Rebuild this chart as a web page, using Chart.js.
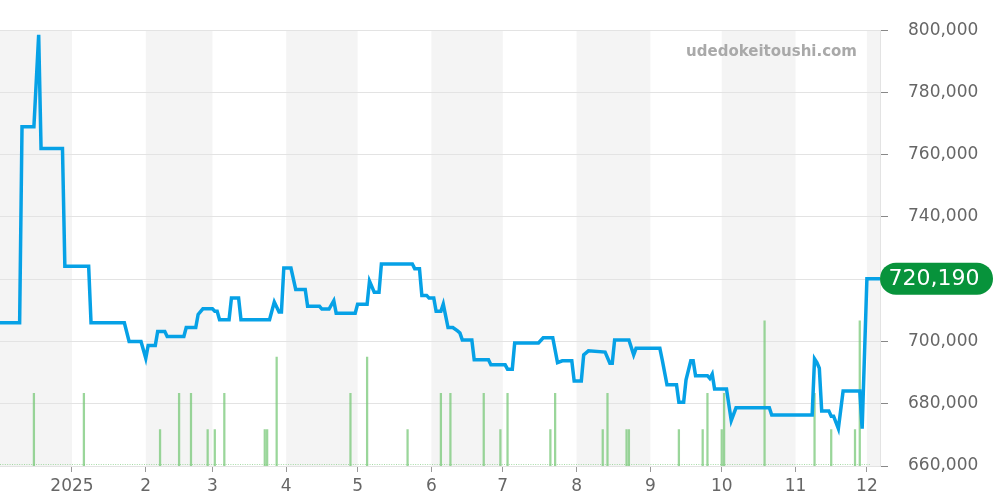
<!DOCTYPE html>
<html>
<head>
<meta charset="utf-8">
<script src="https://cdn.jsdelivr.net/npm/chart.js@4.4.1/dist/chart.umd.min.js"></script>
<style>
  html, body { margin: 0; padding: 0; background: #fff; }
  #wrap { width: 1000px; height: 500px; }
</style>
</head>
<body>
<div id="wrap"><canvas id="priceChart"></canvas></div>
<script>
// price line (vertices of the daily series)
const priceDates = [
  '2024-12-01', '2024-12-10', '2024-12-11', '2024-12-16', '2024-12-18', '2024-12-19', '2024-12-28', '2024-12-29',
  '2025-01-08', '2025-01-09', '2025-01-23', '2025-01-25', '2025-01-30',
  '2025-02-01', '2025-02-02', '2025-02-05', '2025-02-06', '2025-02-09', '2025-02-10', '2025-02-17', '2025-02-18',
  '2025-02-22', '2025-02-23', '2025-02-25',
  '2025-03-01', '2025-03-02', '2025-03-03', '2025-03-04', '2025-03-08', '2025-03-09', '2025-03-12', '2025-03-13',
  '2025-03-25', '2025-03-27', '2025-03-29', '2025-03-30', '2025-03-31',
  '2025-04-03', '2025-04-05', '2025-04-09', '2025-04-10', '2025-04-15', '2025-04-16', '2025-04-19', '2025-04-21',
  '2025-04-22', '2025-04-30',
  '2025-05-01', '2025-05-05', '2025-05-06', '2025-05-08', '2025-05-10', '2025-05-11', '2025-05-24', '2025-05-25',
  '2025-05-27', '2025-05-28', '2025-05-30', '2025-05-31',
  '2025-06-02', '2025-06-03', '2025-06-05', '2025-06-06', '2025-06-08', '2025-06-10', '2025-06-12', '2025-06-13',
  '2025-06-14', '2025-06-18', '2025-06-19', '2025-06-25', '2025-06-26',
  '2025-07-02', '2025-07-03', '2025-07-05', '2025-07-06', '2025-07-16', '2025-07-18', '2025-07-22', '2025-07-24',
  '2025-07-26', '2025-07-30', '2025-07-31',
  '2025-08-03', '2025-08-04', '2025-08-06', '2025-08-13', '2025-08-15', '2025-08-16', '2025-08-17', '2025-08-23',
  '2025-08-25', '2025-08-26',
  '2025-09-05', '2025-09-06', '2025-09-08', '2025-09-12', '2025-09-13', '2025-09-15', '2025-09-16', '2025-09-18',
  '2025-09-19', '2025-09-20', '2025-09-25', '2025-09-26', '2025-09-27', '2025-09-28',
  '2025-10-03', '2025-10-05', '2025-10-07', '2025-10-21', '2025-10-22',
  '2025-11-08', '2025-11-09', '2025-11-10', '2025-11-11', '2025-11-12', '2025-11-15', '2025-11-16', '2025-11-17',
  '2025-11-19', '2025-11-21', '2025-11-28', '2025-11-29',
  '2025-12-01', '2025-12-07'
];
const prices = [
  706000, 706000, 769000, 769000, 798500, 762000, 762000, 724200,
  724200, 706000, 706000, 700000, 700000,
  694600, 698700, 698700, 703200, 703200, 701600, 701600, 704500,
  704500, 708700, 710500,
  710500, 709700, 709700, 707000, 707000, 714000, 714000, 707000,
  707000, 712700, 709500, 709500, 723600,
  723600, 716700, 716700, 711300, 711300, 710400, 710400, 713100,
  709100, 709100,
  712000, 712000, 719400, 715800, 715800, 724900, 724900, 723400,
  723400, 714800, 714800, 714000,
  714000, 709700, 709700, 712000, 704500, 704500, 703400, 702700,
  700500, 700500, 694100, 694100, 692500,
  692500, 691100, 691100, 699500, 699500, 701200, 701200, 693200,
  693800, 693800, 687300,
  687300, 695700, 697000, 696600, 693000, 693000, 700500, 700500,
  695700, 697800,
  697800, 694100, 686100, 686100, 680500, 680500, 687700, 693800,
  693800, 689000, 689000, 688100, 689500, 684700,
  684700, 674600, 678700, 678700, 676400,
  676400, 694400, 693200, 691400, 677700, 677700, 676000, 676000,
  672000, 684100, 684100, 672000,
  720190, 720190
];

// trade counts
const volumeDates = [
  '2024-12-16', '2025-01-06', '2025-02-07', '2025-02-15', '2025-02-20', '2025-02-27', '2025-03-02', '2025-03-06',
  '2025-03-23', '2025-03-24', '2025-03-28', '2025-04-28', '2025-05-05', '2025-05-22', '2025-06-05', '2025-06-09',
  '2025-06-23', '2025-06-30', '2025-07-03', '2025-07-21', '2025-07-23', '2025-08-12', '2025-08-14', '2025-08-22',
  '2025-08-23', '2025-09-13', '2025-09-23', '2025-09-25', '2025-10-01', '2025-10-02', '2025-10-19', '2025-11-09',
  '2025-11-16', '2025-11-26', '2025-11-28'
];
const volumes = [
  2, 2, 1, 2, 2, 1, 1, 2,
  1, 1, 3, 2, 3, 1, 2, 2,
  2, 1, 2, 1, 2, 1, 2, 1,
  1, 1, 1, 2, 1, 2, 4, 2,
  1, 1, 4
];

const monthStarts = [
  '2024-12-01', '2025-01-01', '2025-02-01', '2025-03-01', '2025-04-01', '2025-05-01', '2025-06-01',
  '2025-07-01', '2025-08-01', '2025-09-01', '2025-10-01', '2025-11-01', '2025-12-01', '2026-01-01'
];
const monthLabels = ['2025', '2', '3', '4', '5', '6', '7', '8', '9', '10', '11', '12'];
const watermark = 'udedokeitoushi.com';

const ORIGIN = Date.UTC(2024, 11, 1);
function dayIndex(s) {
    const [y, m, d] = s.split('-').map(Number);
    return (Date.UTC(y, m - 1, d) - ORIGIN) / 86400000;
}

const FONT = "'DejaVu Sans', sans-serif";
const labelTicks = monthStarts.slice(1, 13).map(dayIndex);

const backdrop = {
    id: 'backdrop',
    beforeDraw(chart) {
        const { ctx, chartArea: a, scales: { x } } = chart;
        ctx.save();
        ctx.beginPath();
        ctx.rect(a.left, a.top, a.width, a.height);
        ctx.clip();
        ctx.fillStyle = '#f4f4f4';
        for (let i = 0; i < monthStarts.length - 1; i += 2) {
            const x0 = x.getPixelForValue(dayIndex(monthStarts[i]));
            const x1 = x.getPixelForValue(dayIndex(monthStarts[i + 1]));
            ctx.fillRect(x0, a.top, x1 - x0, a.height);
        }
        ctx.restore();
    },
    beforeDatasetsDraw(chart) {
        const { ctx, chartArea: a } = chart;
        ctx.save();
        ctx.font = 'bold 15px ' + FONT;
        ctx.fillStyle = '#a9a9a9';
        ctx.textAlign = 'right';
        ctx.textBaseline = 'middle';
        ctx.fillText(watermark, a.right - 23, a.top + 22);
        // faint baseline of empty volume days
        ctx.strokeStyle = 'rgba(130,205,130,0.7)';
        ctx.lineWidth = 1;
        ctx.setLineDash([1, 1.4]);
        ctx.beginPath();
        ctx.moveTo(a.left, a.bottom - 1.5);
        ctx.lineTo(a.right - 10, a.bottom - 1.5);
        ctx.stroke();
        ctx.restore();
    },
    afterDraw(chart) {
        const { ctx, chartArea: a, scales: { y } } = chart;
        const last = prices[prices.length - 1];
        const cy = y.getPixelForValue(last);
        ctx.save();
        ctx.fillStyle = '#07933b';
        ctx.beginPath();
        ctx.roundRect(a.right, cy - 16, 113, 32, 16);
        ctx.fill();
        ctx.fillStyle = '#fff';
        ctx.font = '22px ' + FONT;
        ctx.textAlign = 'center';
        ctx.textBaseline = 'middle';
        ctx.fillText(last.toLocaleString('en-US'), a.right + 54, cy + 1);
        ctx.restore();
    }
};

new Chart(document.getElementById('priceChart'), {
    type: 'line',
    data: {
        datasets: [{
            type: 'line',
            data: priceDates.map((d, i) => ({ x: dayIndex(d), y: prices[i] })),
            borderColor: '#06a1e6',
            borderWidth: 3.5,
            pointRadius: 0,
            tension: 0,
            yAxisID: 'y',
            order: 0
        }, {
            type: 'bar',
            data: volumeDates.map((d, i) => ({ x: dayIndex(d), y: volumes[i] })),
            backgroundColor: 'rgba(120,200,120,0.75)',
            barThickness: 1.6,
            yAxisID: 'vol',
            order: 1
        }]
    },
    options: {
        responsive: true,
        maintainAspectRatio: false,
        animation: false,
        layout: { padding: { top: 30, left: 0, right: 0, bottom: 0 } },
        plugins: {
            legend: { display: false },
            tooltip: { enabled: false }
        },
        scales: {
            x: {
                type: 'linear',
                offset: false,
                min: 0.75,
                max: 370.5,
                afterBuildTicks: s => { s.ticks = labelTicks.map(v => ({ value: v })); },
                afterFit: s => { s.height = 34; },
                ticks: {
                    autoSkip: false,
                    maxRotation: 0,
                    padding: 4,
                    color: '#666',
                    font: { family: FONT, size: 17 },
                    callback: (v, i) => monthLabels[i]
                },
                grid: { offset: false, drawOnChartArea: false, drawTicks: true, tickLength: 6, tickColor: '#999' },
                border: { display: false }
            },
            y: {
                position: 'right',
                min: 660000,
                max: 800000,
                afterFit: s => { s.width = 120; },
                ticks: {
                    stepSize: 20000,
                    padding: 20,
                    color: '#666',
                    font: { family: FONT, size: 17 },
                    callback: v => v.toLocaleString('en-US')
                },
                grid: { color: '#e3e3e3', tickColor: '#888', tickLength: 8 },
                border: { display: true, color: '#e3e3e3' }
            },
            vol: {
                display: false,
                min: 0,
                max: 12
            }
        }
    },
    plugins: [backdrop]
});
</script>
</body>
</html>
